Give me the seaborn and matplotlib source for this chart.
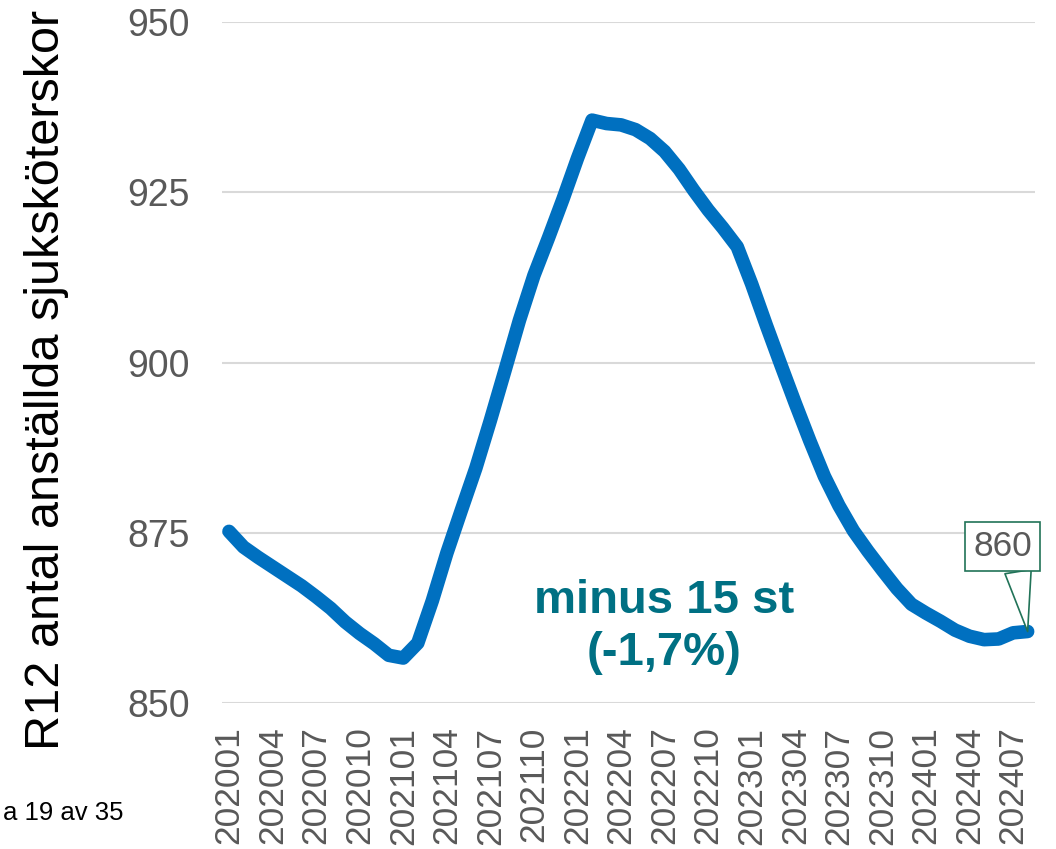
import numpy as np
import pandas as pd
import matplotlib.pyplot as plt
import seaborn as sns

# months 202001..202408
months = [f"{y}{m:02d}" for y in range(2020, 2025) for m in range(1, 13)][:56]
values = [875.2, 872.9, 871.4, 870.0, 868.6, 867.2, 865.6, 863.9, 861.9, 860.2,
          858.7, 857.0, 856.6, 858.8, 865.0, 872.0, 878.3, 884.5, 891.5, 898.8,
          906.2, 912.8, 918.3, 924.0, 930.0, 935.6, 935.1, 934.9, 934.2, 932.9,
          931.0, 928.4, 925.3, 922.4, 919.8, 917.0, 911.5, 905.5, 899.7, 894.0,
          888.5, 883.3, 879.0, 875.3, 872.3, 869.5, 866.8, 864.5, 863.2, 862.0,
          860.7, 859.8, 859.3, 859.4, 860.3, 860.5]
y_ticks = [850, 875, 900, 925, 950]

df = pd.DataFrame({'Period': months, 'Antal': values})
df['pos'] = np.arange(len(df))

sns.set_style('white')
plt.rcParams['font.family'] = ['Liberation Sans', 'DejaVu Sans']

fig = plt.figure(figsize=(10.56, 8.49), dpi=100)
ax = fig.add_axes([0.210, 0.172, 0.770, 0.802])

sns.lineplot(x='pos', y='Antal', data=df, color='#0070C0', linewidth=9.8, ax=ax,
             solid_capstyle='round', solid_joinstyle='round', zorder=3)

ax.set_ylim(850, 950)
ax.set_xlim(-0.5, len(df) - 0.5)
ax.set_yticks(y_ticks)
ax.set_yticklabels([str(t) for t in y_ticks])
ax.set_xticks(df['pos'][::3])
ax.set_xticklabels(df['Period'][::3], rotation=90)
ax.tick_params(axis='y', labelsize=27, colors='#595959', length=0, pad=23)
ax.tick_params(axis='x', labelsize=25.5, colors='#595959', length=0, pad=17)
ax.grid(axis='y', color='#D9D9D9', linewidth=1.5, zorder=0)
ax.set_axisbelow(True)
for s in ax.spines.values():
    s.set_visible(False)
ax.set_xlabel('')
ax.set_ylabel('')

fig.text(47 / 1056, 1 - 380 / 849, 'R12 antal anställda sjuksköterskor',
         rotation=90, ha='center', va='center', fontsize=35, color='black')

fig.text(664 / 1056, 1 - 627 / 849, 'minus 15 st\n(-1,7%)', ha='center', va='center',
         fontsize=34, fontweight='bold', color='#007083', linespacing=1.25)

last = len(df) - 1
ax.annotate(f"{values[-1]:.0f}", xy=(last, values[-1]), xytext=(-18, 61),
            textcoords='offset points', ha='center', va='center',
            fontsize=25.5, color='#595959', zorder=5,
            bbox=dict(boxstyle='square,pad=0.22', fc='white', ec='#217358', lw=1.2),
            arrowprops=dict(arrowstyle='wedge,tail_width=0.75,shrink_factor=0.5',
                            fc='white', ec='#217358', lw=1.2, relpos=(0.74, 0),
                            shrinkA=0, shrinkB=0))

fig.text(0.003, 1 - 813 / 849, 'a 19 av 35', ha='left', va='center', fontsize=18.5,
         color='black')

fig.savefig('out.png', dpi=100)
